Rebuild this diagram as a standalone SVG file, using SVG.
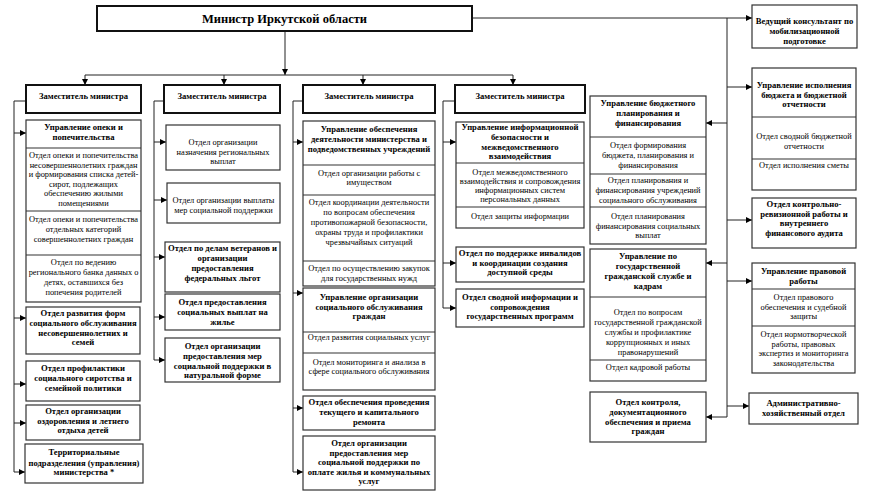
<svg xmlns="http://www.w3.org/2000/svg" width="874" height="503" viewBox="0 0 874 503">
<style>
text{font-family:"Liberation Serif","Times New Roman",serif;font-size:8.4px;fill:#000;text-anchor:middle}
.b{font-weight:bold;font-size:8.6px}
.box{fill:#fff;stroke:#333;stroke-width:1.2}
.hd{fill:#fff;stroke:#111;stroke-width:2}
.dv{stroke:#333;stroke-width:1.2}
.ln{fill:none;stroke:#222;stroke-width:1}
.ar{fill:none;stroke:#222;stroke-width:1;marker-end:url(#ah)}
</style>
<defs>
<marker id="ah" viewBox="0 0 10 10" refX="10" refY="5" markerWidth="7" markerHeight="6" markerUnits="userSpaceOnUse" orient="auto"><path d="M0,0 L10,5 L0,10 z" fill="#000"/></marker>
</defs>
<rect width="874" height="503" fill="#fff"/>

<g id="connectors">
<path class="ar" d="M285,31 V75"/>
<path class="ln" d="M85,75 H513"/>
<path class="ar" d="M85,75 V85"/>
<path class="ar" d="M224,75 V85"/>
<path class="ar" d="M363,75 V85"/>
<path class="ar" d="M513,75 V85"/>
<path class="ln" d="M472,18 H727 V417"/>
<path class="ar" d="M727,18 H752"/>
<path class="ar" d="M727,87 H752"/>
<path class="ar" d="M727,220 H752"/>
<path class="ar" d="M727,281 H752"/>
<path class="ar" d="M727,406 H749"/>
<path class="ar" d="M727,123 H706"/>
<path class="ar" d="M727,263 H706"/>
<path class="ar" d="M727,417 H706"/>
<path class="ln" d="M26,101 H14 V472"/>
<path class="ar" d="M14,133 H26"/>
<path class="ar" d="M14,318 H26"/>
<path class="ar" d="M14,384 H26"/>
<path class="ar" d="M14,423 H26"/>
<path class="ar" d="M14,472 H25"/>
<path class="ln" d="M164,101 H154 V360"/>
<path class="ar" d="M154,142 H166"/>
<path class="ar" d="M154,200 H167"/>
<path class="ar" d="M154,257 H165"/>
<path class="ar" d="M154,317 H165"/>
<path class="ar" d="M154,360 H165"/>
<path class="ln" d="M303,101 H293 V472"/>
<path class="ar" d="M293,142 H303"/>
<path class="ar" d="M293,293 H303"/>
<path class="ar" d="M293,408 H303"/>
<path class="ar" d="M293,472 H303"/>
<path class="ln" d="M455,101 H443 V308"/>
<path class="ar" d="M443,142 H456"/>
<path class="ar" d="M443,263 H456"/>
<path class="ar" d="M443,308 H456"/>
</g>

<g id="minister">
<rect class="hd" x="97" y="6" width="375" height="25"/>
<text class="b" x="284.5" y="23" style="font-size:12.5px">Министр Иркутской области</text>
</g>

<g id="dep1"><rect class="hd" x="26" y="85" width="115" height="28"/><text class="b" x="83.5" y="99">Заместитель министра</text></g>
<g id="dep2"><rect class="hd" x="164" y="85" width="116" height="28"/><text class="b" x="222" y="99">Заместитель министра</text></g>
<g id="dep3"><rect class="hd" x="303" y="85" width="132" height="28"/><text class="b" x="369" y="99">Заместитель министра</text></g>
<g id="dep4"><rect class="hd" x="455" y="85" width="130" height="28"/><text class="b" x="520" y="99">Заместитель министра</text></g>

<!-- Column 1 -->
<g id="c1-opeka">
<rect class="box" x="26" y="120" width="115" height="182"/>
<line class="dv" x1="26" y1="148" x2="141" y2="148"/>
<line class="dv" x1="26" y1="211" x2="141" y2="211"/>
<line class="dv" x1="26" y1="255" x2="141" y2="255"/>
<text class="b" x="83.5" y="130">Управление опеки и</text>
<text class="b" x="83.5" y="140">попечительства</text>
<text x="83.5" y="158">Отдел опеки и попечительства</text>
<text x="83.5" y="167.6">несовершеннолетних граждан</text>
<text x="83.5" y="177.2">и формирования списка детей-</text>
<text x="83.5" y="186.8">сирот, подлежащих</text>
<text x="83.5" y="196.4">обеспечению жилыми</text>
<text x="83.5" y="206">помещениями</text>
<text x="83.5" y="222">Отдел опеки и попечительства</text>
<text x="83.5" y="232">отдельных категорий</text>
<text x="83.5" y="242">совершеннолетних граждан</text>
<text x="83.5" y="265">Отдел по ведению</text>
<text x="83.5" y="275">регионального банка данных о</text>
<text x="83.5" y="285">детях, оставшихся без</text>
<text x="83.5" y="295">попечения родителей</text>
</g>
<g id="c1-razvitie">
<rect class="box" x="26" y="307" width="114" height="47"/>
<text class="b" x="83" y="316">Отдел развития форм</text>
<text class="b" x="83" y="326">социального обслуживания</text>
<text class="b" x="83" y="336">несовершеннолетних и</text>
<text class="b" x="83" y="345">семей</text>
</g>
<g id="c1-profilaktika">
<rect class="box" x="26" y="361" width="114" height="40"/>
<text class="b" x="83" y="371">Отдел профилактики</text>
<text class="b" x="83" y="381">социального сиротства и</text>
<text class="b" x="83" y="391">семейной политики</text>
</g>
<g id="c1-ozdorovlenie">
<rect class="box" x="26" y="405" width="114" height="35"/>
<text class="b" x="83" y="414">Отдел организации</text>
<text class="b" x="83" y="424">оздоровления и летнего</text>
<text class="b" x="83" y="433">отдыха детей</text>
</g>
<g id="c1-territ">
<rect class="box" x="25" y="444" width="118" height="39"/>
<text class="b" x="84" y="455">Территориальные</text>
<text class="b" x="84" y="466">подразделения (управления)</text>
<text class="b" x="84" y="475">министерства *</text>
</g>

<!-- Column 2 -->
<g id="c2-naznachenie">
<rect class="box" x="166" y="125" width="114" height="45"/>
<text x="223" y="145">Отдел организации</text>
<text x="223" y="154.5">назначения региональных</text>
<text x="223" y="164">выплат</text>
</g>
<g id="c2-vyplaty">
<rect class="box" x="167" y="183" width="113" height="40"/>
<text x="223.5" y="203">Отдел организации выплаты</text>
<text x="223.5" y="213">мер социальной поддержки</text>
</g>
<g id="c2-veterany">
<rect class="box" x="165" y="242" width="115" height="50"/>
<text class="b" x="222.5" y="251">Отдел по делам ветеранов и</text>
<text class="b" x="222.5" y="261">организации</text>
<text class="b" x="222.5" y="271">предоставления</text>
<text class="b" x="222.5" y="281">федеральных льгот</text>
</g>
<g id="c2-zhilye">
<rect class="box" x="165" y="294" width="115" height="36"/>
<text class="b" x="222.5" y="305">Отдел предоставления</text>
<text class="b" x="222.5" y="315">социальных выплат на</text>
<text class="b" x="222.5" y="325">жилье</text>
</g>
<g id="c2-naturalnaya">
<rect class="box" x="165" y="338" width="115" height="44"/>
<text class="b" x="222.5" y="349">Отдел организации</text>
<text class="b" x="222.5" y="359">предоставления мер</text>
<text class="b" x="222.5" y="369">социальной поддержки в</text>
<text class="b" x="222.5" y="378">натуральной форме</text>
</g>

<!-- Column 3 -->
<g id="c3-obespechenie">
<rect class="box" x="303" y="121" width="132" height="165"/>
<line class="dv" x1="303" y1="165" x2="435" y2="165"/>
<line class="dv" x1="303" y1="195" x2="435" y2="195"/>
<line class="dv" x1="303" y1="261" x2="435" y2="261"/>
<text class="b" x="369" y="132">Управление обеспечения</text>
<text class="b" x="369" y="142">деятельности министерства и</text>
<text class="b" x="369" y="152">подведомственных учреждений</text>
<text x="369" y="176">Отдел организации работы с</text>
<text x="369" y="185">имуществом</text>
<text x="369" y="205">Отдел координации деятельности</text>
<text x="369" y="215">по вопросам обеспечения</text>
<text x="369" y="225">противопожарной безопасности,</text>
<text x="369" y="235">охраны труда и профилактики</text>
<text x="369" y="245">чрезвычайных ситуаций</text>
<text x="369" y="271">Отдел по осуществлению закупок</text>
<text x="369" y="281">для государственных нужд</text>
</g>
<g id="c3-socobsl">
<rect class="box" x="303" y="288" width="132" height="102"/>
<line class="dv" x1="303" y1="332" x2="435" y2="332"/>
<line class="dv" x1="303" y1="353" x2="435" y2="353"/>
<text class="b" x="369" y="300">Управление организации</text>
<text class="b" x="369" y="310">социального обслуживания</text>
<text class="b" x="369" y="319">граждан</text>
<text x="369" y="340">Отдел развития социальных услуг</text>
<text x="369" y="365">Отдел мониторинга и анализа в</text>
<text x="369" y="374">сфере социального обслуживания</text>
</g>
<g id="c3-remont">
<rect class="box" x="303" y="396" width="132" height="34"/>
<text class="b" x="369" y="405">Отдел обеспечения проведения</text>
<text class="b" x="369" y="415">текущего и капитального</text>
<text class="b" x="369" y="425">ремонта</text>
</g>
<g id="c3-oplata">
<rect class="box" x="303" y="436" width="132" height="54"/>
<text class="b" x="369" y="446">Отдел организации</text>
<text class="b" x="369" y="455.5">предоставления мер</text>
<text class="b" x="369" y="465">социальной поддержки по</text>
<text class="b" x="369" y="474.5">оплате жилья и коммунальных</text>
<text class="b" x="369" y="484">услуг</text>
</g>

<!-- Column 4 -->
<g id="c4-infobez">
<rect class="box" x="456" y="122" width="128" height="106"/>
<line class="dv" x1="456" y1="163" x2="584" y2="163"/>
<line class="dv" x1="456" y1="207" x2="584" y2="207"/>
<text class="b" x="520" y="130">Управление информационной</text>
<text class="b" x="520" y="140">безопасности и</text>
<text class="b" x="520" y="150">межведомственного</text>
<text class="b" x="520" y="159">взаимодействия</text>
<text x="520" y="175">Отдел межведомственного</text>
<text x="520" y="184">взаимодействия и сопровождения</text>
<text x="520" y="193">информационных систем</text>
<text x="520" y="202">персональных данных</text>
<text x="520" y="219">Отдел защиты информации</text>
</g>
<g id="c4-invalidy">
<rect class="box" x="456" y="247" width="128" height="35"/>
<text class="b" x="520" y="256">Отдел по поддержке инвалидов</text>
<text class="b" x="520" y="266">и координации создания</text>
<text class="b" x="520" y="275">доступной среды</text>
</g>
<g id="c4-svodnaya">
<rect class="box" x="456" y="289" width="128" height="38"/>
<text class="b" x="520" y="300">Отдел сводной информации и</text>
<text class="b" x="520" y="310">сопровождения</text>
<text class="b" x="520" y="319">государственных программ</text>
</g>

<!-- Column 5 -->
<g id="c5-budget">
<rect class="box" x="590" y="96" width="116" height="148"/>
<line class="dv" x1="590" y1="137" x2="706" y2="137"/>
<line class="dv" x1="590" y1="174" x2="706" y2="174"/>
<line class="dv" x1="590" y1="207" x2="706" y2="207"/>
<text class="b" x="648" y="106">Управление бюджетного</text>
<text class="b" x="648" y="116">планирования и</text>
<text class="b" x="648" y="126">финансирования</text>
<text x="648" y="148">Отдел формирования</text>
<text x="648" y="158">бюджета, планирования и</text>
<text x="648" y="168">финансирования</text>
<text x="648" y="183">Отдел планирования и</text>
<text x="648" y="193">финансирования учреждений</text>
<text x="648" y="203">социального обслуживания</text>
<text x="648" y="219">Отдел планирования</text>
<text x="648" y="229">финансирования социальных</text>
<text x="648" y="238">выплат</text>
</g>
<g id="c5-kadry">
<rect class="box" x="590" y="249" width="116" height="132"/>
<line class="dv" x1="590" y1="297" x2="706" y2="297"/>
<line class="dv" x1="590" y1="360" x2="706" y2="360"/>
<text class="b" x="648" y="259">Управление по</text>
<text class="b" x="648" y="269">государственной</text>
<text class="b" x="648" y="279">гражданской службе и</text>
<text class="b" x="648" y="289">кадрам</text>
<text x="648" y="315">Отдел по вопросам</text>
<text x="648" y="325">государственной гражданской</text>
<text x="648" y="335">службы и профилактике</text>
<text x="648" y="345">коррупционных и иных</text>
<text x="648" y="355">правонарушений</text>
<text x="648" y="370">Отдел кадровой работы</text>
</g>
<g id="c5-kontrol">
<rect class="box" x="590" y="392" width="116" height="50"/>
<text class="b" x="648" y="405">Отдел контроля,</text>
<text class="b" x="648" y="415">документационного</text>
<text class="b" x="648" y="425">обеспечения и приема</text>
<text class="b" x="648" y="434">граждан</text>
</g>

<!-- Right column -->
<g id="r-mobil">
<rect class="box" x="752" y="5" width="105" height="43"/>
<text class="b" x="804.5" y="24">Ведущий консультант по</text>
<text class="b" x="804.5" y="34">мобилизационной</text>
<text class="b" x="804.5" y="44">подготовке</text>
</g>
<g id="r-ispolnenie">
<rect class="box" x="752" y="68" width="104" height="122"/>
<line class="dv" x1="752" y1="117" x2="856" y2="117"/>
<line class="dv" x1="752" y1="159" x2="856" y2="159"/>
<text class="b" x="804" y="88">Управление исполнения</text>
<text class="b" x="804" y="98">бюджета и бюджетной</text>
<text class="b" x="804" y="107">отчетности</text>
<text x="804" y="139">Отдел сводной бюджетной</text>
<text x="804" y="149">отчетности</text>
<text x="804" y="168">Отдел исполнения сметы</text>
</g>
<g id="r-audit">
<rect class="box" x="752" y="198" width="104" height="50"/>
<text class="b" x="804" y="207">Отдел контрольно-</text>
<text class="b" x="804" y="216.5">ревизионной работы и</text>
<text class="b" x="804" y="226">внутреннего</text>
<text class="b" x="804" y="235.5">финансового аудита</text>
</g>
<g id="r-pravo">
<rect class="box" x="752" y="263" width="103" height="110"/>
<line class="dv" x1="752" y1="289" x2="855" y2="289"/>
<line class="dv" x1="752" y1="326" x2="855" y2="326"/>
<text class="b" x="803.5" y="274">Управление правовой</text>
<text class="b" x="803.5" y="284">работы</text>
<text x="803.5" y="300">Отдел правового</text>
<text x="803.5" y="310">обеспечения и судебной</text>
<text x="803.5" y="319">защиты</text>
<text x="803.5" y="337">Отдел нормотворческой</text>
<text x="803.5" y="346.5">работы, правовых</text>
<text x="803.5" y="356">экспертиз и мониторинга</text>
<text x="803.5" y="366">законодательства</text>
</g>
<g id="r-ahd">
<rect class="box" x="749" y="393" width="109" height="31"/>
<text class="b" x="803.5" y="406">Административно-</text>
<text class="b" x="803.5" y="416">хозяйственный отдел</text>
</g>
</svg>
